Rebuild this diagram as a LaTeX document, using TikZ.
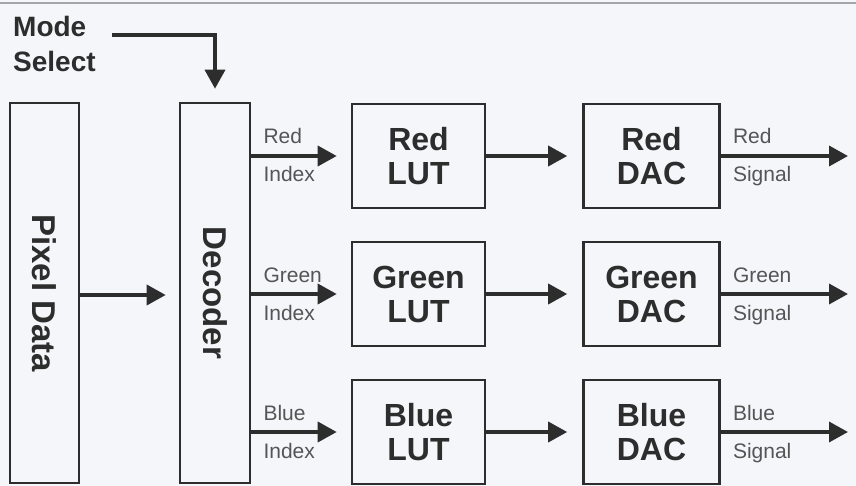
\documentclass[tikz,border=0pt]{standalone}
\usepackage{fontspec}
\setmainfont{Liberation Sans}
\usetikzlibrary{arrows.meta,calc}
\definecolor{ink}{RGB}{45,45,45}
\definecolor{soft}{RGB}{85,85,85}
\definecolor{bg}{RGB}{244,246,249}
\begin{document}
\begin{tikzpicture}[x=1pt,y=-1pt,
  blk/.style={draw=ink,line width=2.6pt,fill=bg,text=ink,align=center,inner sep=0pt,
    font=\fontsize{32}{34}\selectfont\bfseries},
  tall/.style={blk,minimum width=69pt,minimum height=380pt},
  lut/.style={blk,minimum width=133pt,minimum height=104pt},
  dac/.style={blk,minimum width=136pt,minimum height=104pt},
  conn/.style={draw=ink,line width=3.6pt,-{Triangle[length=19pt,width=20pt]}},
  lbl/.style={text=soft,font=\fontsize{21}{22}\selectfont,inner sep=0pt,anchor=base west},
  big/.style={text=ink,font=\fontsize{28}{35}\selectfont\bfseries,inner sep=0pt,align=left,anchor=north west}
]
\useasboundingbox[fill=bg] (0,0) rectangle (856,486);
\draw[gray!70,line width=1.5pt] (0,3) -- (856,3);

\node[big] (mode) at (13,16) {Mode\\Select};
\coordinate (ms) at (112,35);

\node[tall] (pix) at (44.5,293) {};
\node[text=ink,font=\fontsize{33}{35}\selectfont\bfseries,rotate=-90] (pixt) at (pix.center) {Pixel Data};
\node[tall,minimum width=70pt] (dec) at (215,293) {};
\node[text=ink,font=\fontsize{33}{35}\selectfont\bfseries,rotate=-90] (dect) at (dec.center) {Decoder};

\node[lut] (rlut) at (418.5,156) {Red\\LUT};
\node[lut] (glut) at (418.5,294) {Green\\LUT};
\node[lut] (blut) at (418.5,432) {Blue\\LUT};
\node[dac] (rdac) at (651.5,156) {Red\\DAC};
\node[dac] (gdac) at (651.5,294) {Green\\DAC};
\node[dac] (bdac) at (651.5,432) {Blue\\DAC};

\coordinate (rout) at (848,156);
\coordinate (gout) at (848,294);
\coordinate (bout) at (848,432);

\draw[conn,shorten >=13pt] (ms) -| (dec.north);
\draw[conn,shorten >=13pt] (pix.east |- 0,295) -- (dec.west |- 0,295);

\foreach \r/\l/\d/\o in {r/rlut/rdac/rout,g/glut/gdac/gout,b/blut/bdac/bout}{
  \draw[conn,shorten >=14pt] (dec.east |- \l) -- (\l.west);
  \draw[conn,shorten >=15pt] (\l.east) -- (\d.west);
  \draw[conn] (\d.east) -- (\o);
}

\node[lbl] (ri) at ($(dec.east |- rlut)+(12,-12)$) {Red};
\node[lbl] (ri2) at ($(dec.east |- rlut)+(12,26)$) {Index};
\node[lbl] (gi) at ($(dec.east |- glut)+(12,-12)$) {Green};
\node[lbl] (gi2) at ($(dec.east |- glut)+(12,26)$) {Index};
\node[lbl] (bi) at ($(dec.east |- blut)+(12,-12)$) {Blue};
\node[lbl] (bi2) at ($(dec.east |- blut)+(12,26)$) {Index};

\node[lbl] (rs) at ($(rdac.east)+(12,-12)$) {Red};
\node[lbl] (rs2) at ($(rdac.east)+(12,26)$) {Signal};
\node[lbl] (gs) at ($(gdac.east)+(12,-12)$) {Green};
\node[lbl] (gs2) at ($(gdac.east)+(12,26)$) {Signal};
\node[lbl] (bs) at ($(bdac.east)+(12,-12)$) {Blue};
\node[lbl] (bs2) at ($(bdac.east)+(12,26)$) {Signal};
\end{tikzpicture}
\end{document}
